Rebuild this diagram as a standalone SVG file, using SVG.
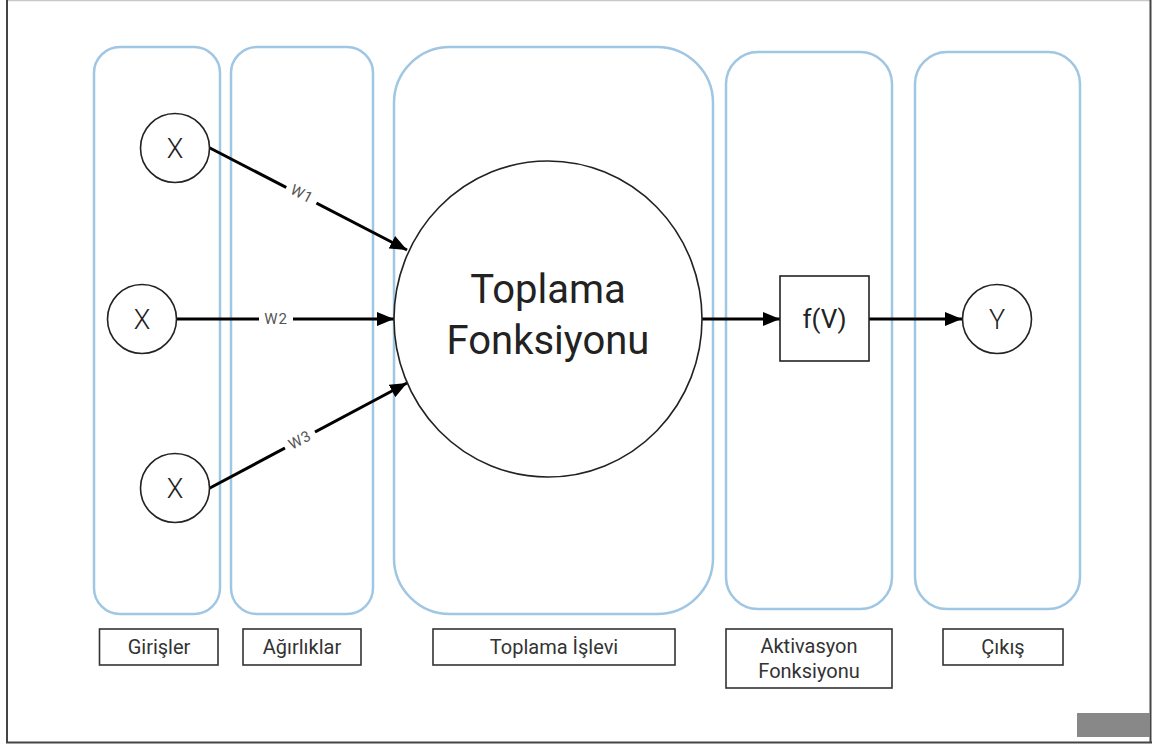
<svg xmlns="http://www.w3.org/2000/svg" width="1153" height="746" viewBox="0 0 1153 746">
<style>
.lane{fill:none;stroke:#9fc6e3;stroke-width:2.5}
.node{fill:#fff;stroke:#222;stroke-width:1.6}
.big{font-family:Roboto,"Liberation Sans",sans-serif;font-weight:400;fill:#222;text-anchor:middle}
.thin{font-weight:300}
.lbl{fill:#fff;stroke:#333;stroke-width:1.6}
.lt{font-family:Roboto,"Liberation Sans",sans-serif;font-size:20px;fill:#333;text-anchor:middle}
.edge{stroke:#000;stroke-width:3;fill:none;marker-end:url(#ah)}
.wt{font-family:Roboto,"Liberation Sans",sans-serif;font-size:15px;letter-spacing:1px;fill:#555;text-anchor:middle}
</style>
<defs>
<marker id="ah" markerUnits="userSpaceOnUse" markerWidth="18" markerHeight="14" refX="17" refY="7" orient="auto">
<path d="M0,0 L17,7 L0,14 z" fill="#000"/>
</marker>
</defs>
<rect x="0" y="0" width="1153" height="746" fill="#fff"/>
<g id="frame">
<line x1="6" y1="0.5" x2="1151" y2="0.5" stroke="#c8c8c8" stroke-width="1.5"/>
<line x1="7" y1="0" x2="7" y2="743" stroke="#444" stroke-width="2"/>
<line x1="1150.5" y1="0" x2="1150.5" y2="743" stroke="#444" stroke-width="2"/>
<line x1="6" y1="742.5" x2="1152" y2="742.5" stroke="#444" stroke-width="2"/>
<rect x="1077" y="713" width="73" height="24" fill="#888"/>
</g>
<g id="lanes">
<rect id="lane-girisler" class="lane" x="94" y="47" width="126" height="567" rx="26"/>
<rect id="lane-agirliklar" class="lane" x="231" y="47" width="142" height="567" rx="26"/>
<rect id="lane-toplama" class="lane" x="394" y="47" width="319" height="567" rx="56"/>
<rect id="lane-aktivasyon" class="lane" x="726" y="52" width="166" height="557" rx="32"/>
<rect id="lane-cikis" class="lane" x="915" y="52" width="165" height="557" rx="32"/>
</g>
<g id="connectors">
<line class="edge" x1="208" y1="147" x2="407" y2="250"/>
<line class="edge" x1="176" y1="319" x2="394" y2="319"/>
<line class="edge" x1="208" y1="489" x2="407" y2="383"/>
<line class="edge" x1="702" y1="319" x2="780" y2="319"/>
<line class="edge" x1="869" y1="319" x2="962" y2="319"/>
<g transform="translate(302,194) rotate(27.6)">
<rect x="-17" y="-10" width="34" height="20" fill="#fff"/>
<text class="wt" x="0" y="5">W1</text>
</g>
<g transform="translate(276,319)">
<rect x="-17" y="-10" width="34" height="20" fill="#fff"/>
<text class="wt" x="0" y="5">W2</text>
</g>
<g transform="translate(300,440) rotate(-28.5)">
<rect x="-17" y="-10" width="34" height="20" fill="#fff"/>
<text class="wt" x="0" y="5">W3</text>
</g>
</g>
<g id="x1">
<circle class="node" cx="175" cy="148" r="34.5"/>
<text class="big thin" x="175" y="158" font-size="27">X</text>
</g>
<g id="x2">
<circle class="node" cx="142" cy="319" r="34.5"/>
<text class="big thin" x="142" y="329" font-size="27">X</text>
</g>
<g id="x3">
<circle class="node" cx="175" cy="488" r="34.5"/>
<text class="big thin" x="175" y="498" font-size="27">X</text>
</g>
<g id="toplama">
<ellipse class="node" cx="548" cy="319" rx="154" ry="158"/>
<text class="big" x="548" y="303" font-size="40">Toplama</text>
<text class="big" x="548" y="354" font-size="40">Fonksiyonu</text>
</g>
<g id="fv">
<rect class="node" x="780" y="276" width="89" height="85"/>
<text class="big" x="824.5" y="328" font-size="26">f(V)</text>
</g>
<g id="y">
<circle class="node" cx="997" cy="319" r="34.5"/>
<text class="big thin" x="997" y="329" font-size="27">Y</text>
</g>
<g id="label-girisler">
<rect class="lbl" x="99.5" y="629" width="118.5" height="36"/>
<text class="lt" x="159" y="654">Girişler</text>
</g>
<g id="label-agirliklar">
<rect class="lbl" x="243" y="629" width="118" height="36"/>
<text class="lt" x="302" y="654">Ağırlıklar</text>
</g>
<g id="label-toplama">
<rect class="lbl" x="433" y="629" width="242" height="36"/>
<text class="lt" x="554" y="654">Toplama İşlevi</text>
</g>
<g id="label-aktivasyon">
<rect class="lbl" x="726" y="629" width="166" height="59"/>
<text class="lt" x="809" y="653">Aktivasyon</text>
<text class="lt" x="809" y="678">Fonksiyonu</text>
</g>
<g id="label-cikis">
<rect class="lbl" x="943" y="629" width="120" height="36"/>
<text class="lt" x="1003" y="654">Çıkış</text>
</g>
</svg>
